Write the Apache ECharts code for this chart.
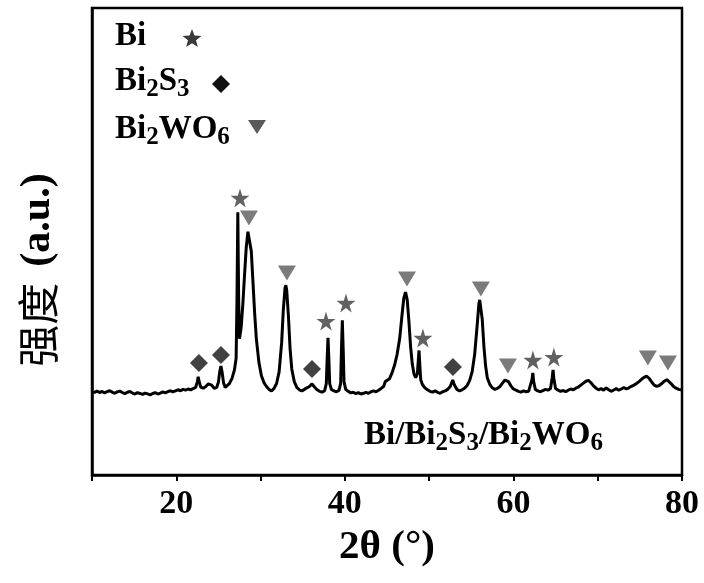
<!DOCTYPE html>
<html>
<head>
<meta charset="utf-8">
<script src="https://cdn.jsdelivr.net/npm/echarts@6/dist/echarts.min.js"></script>
<style>
  html, body { margin: 0; padding: 0; background: #fff; }
  #chartmain { width: 704px; height: 583px; }
</style>
</head>
<body>
<div id="chartmain"></div>
<script>
// 2θ (deg) and intensity
var theta = [
  10.0,10.3,10.6,10.9,11.2,11.5,11.8,12.1,12.4,12.7,13.0,13.3,13.6,13.9,14.2,14.5,14.8,15.1,15.4,15.7,
  16.0,16.3,16.6,16.9,17.2,17.5,17.8,18.1,18.4,18.7,19.0,19.3,19.6,19.9,20.2,20.5,20.8,21.1,21.4,21.7,
  22.0,22.3,22.5,22.6,22.7,22.9,23.2,23.5,23.8,24.0,24.2,24.5,24.8,25.0,25.15,25.3,25.45,25.6,25.8,
  26.0,26.3,26.6,26.9,27.1,27.2,27.3,27.4,27.5,27.7,27.9,28.1,28.3,28.5,28.6,28.7,28.9,29.1,29.3,29.5,
  29.8,30.1,30.4,30.7,31.0,31.3,31.6,31.9,32.2,32.5,32.7,32.9,33.0,33.1,33.3,33.5,33.7,34.0,34.3,34.6,
  34.9,35.2,35.5,35.8,36.1,36.4,36.7,37.0,37.3,37.6,37.8,37.9,38.0,38.1,38.2,38.4,38.7,39.0,39.3,39.5,
  39.6,39.7,39.8,39.9,40.1,40.4,40.7,41.0,41.3,41.6,41.9,42.2,42.5,42.8,43.1,43.4,43.7,44.0,44.3,44.6,
  44.8,45.0,45.3,45.6,45.9,46.2,46.5,46.8,47.0,47.2,47.4,47.6,47.8,48.0,48.2,48.4,48.6,48.7,48.8,48.9,
  49.0,49.2,49.5,49.8,50.1,50.4,50.7,51.0,51.3,51.6,51.9,52.2,52.5,52.8,53.0,53.3,53.6,53.9,54.2,54.5,
  54.8,55.1,55.4,55.7,55.9,56.0,56.1,56.3,56.5,56.7,56.9,57.2,57.5,57.8,58.1,58.4,58.7,59.0,59.2,59.4,
  59.7,60.0,60.3,60.6,60.9,61.2,61.5,61.8,62.0,62.2,62.3,62.4,62.6,62.9,63.2,63.5,63.8,64.1,64.4,64.6,
  64.7,64.8,65.0,65.3,65.6,65.9,66.2,66.5,66.8,67.1,67.4,67.7,68.0,68.3,68.6,68.9,69.2,69.5,69.8,70.1,
  70.4,70.7,71.0,71.3,71.6,71.9,72.2,72.5,72.8,73.1,73.4,73.7,74.0,74.3,74.6,74.9,75.2,75.5,75.8,76.1,
  76.4,76.7,77.0,77.3,77.6,77.9,78.2,78.4,78.7,79.0,79.3,79.6,80.0
];
var intensity = [
  427,425,431,424,429,422,428,433,426,420,427,431,424,418,425,429,421,416,423,419,
  414,421,417,412,419,423,416,421,427,422,428,433,427,432,438,433,440,436,442,438,
  444,450,480,505,482,452,446,455,468,478,462,445,450,478,530,560,525,475,450,
  452,470,495,540,600,900,1350,900,700,760,880,1030,1170,1250,1260,1245,1150,990,830,700,
  580,510,475,455,440,432,445,470,530,680,850,960,975,950,820,650,545,480,450,438,
  432,440,448,455,468,452,438,430,426,433,470,600,705,600,470,440,432,428,435,470,
  650,795,650,480,440,430,422,425,418,423,416,420,425,420,428,432,428,436,445,455,
  480,470,495,525,565,620,700,830,910,940,900,790,660,570,520,500,520,580,640,560,
  490,465,448,438,430,426,432,425,420,428,432,440,455,488,462,440,432,438,446,460,
  485,530,620,770,880,900,890,800,660,560,500,465,448,440,445,455,472,488,498,480,
  458,442,436,430,426,432,428,430,440,490,525,480,440,432,428,434,440,436,445,500,
  540,495,445,436,430,434,428,436,442,438,446,452,462,472,482,486,474,458,446,438,
  444,436,448,438,430,437,444,436,442,450,442,448,456,462,470,480,492,502,508,496,
  478,462,455,460,470,482,490,486,470,455,446,440,437
];
// phase markers [2θ, height]
var biMarks = [[27.56,1424],[37.76,791],[40.13,884],[49.26,704],[62.31,591],[64.80,606]];
var bi2s3Marks = [[22.69,576],[25.30,617],[36.10,545],[52.82,555]];
var bi2wo6Marks = [[28.62,1321],[33.13,1038],[47.37,1007],[56.14,956],[59.35,560],[75.95,601],[78.33,576]];
var xLabels = [20, 40, 60, 80];

var serif = 'Liberation Serif';
var starPath = 'path://M50,0 L61,35 L98,35 L68,57 L79,91 L50,70 L21,91 L32,57 L2,35 L39,35 Z';
var colStar = '#3a3a3a', colDia = '#111111', colTri = '#5a5a5a';

function starPts(cx, cy, r) {
  var pts = [];
  for (var i = 0; i < 10; i++) {
    var a = -Math.PI / 2 + i * Math.PI / 5;
    var rr = i % 2 ? r * 0.42 : r;
    pts.push([cx + rr * Math.cos(a), cy + rr * Math.sin(a)]);
  }
  return pts;
}

var subRich = {
  n: { fontFamily: serif, fontWeight: 'bold', fontSize: 33, color: '#000' },
  s: { fontFamily: serif, fontWeight: 'bold', fontSize: 25, color: '#000', padding: [16, 0, 0, 0] }
};

var curve = theta.map(function (t, i) { return [t, intensity[i]]; });

var option = {
  animation: false,
  grid: { left: 92, right: 22, top: 8, bottom: 108, show: true, borderColor: '#000', borderWidth: 2.5 },
  xAxis: {
    type: 'value', min: 10, max: 80, interval: 10,
    name: '2θ (°)', nameLocation: 'middle', nameGap: 52,
    nameTextStyle: { fontFamily: serif, fontWeight: 'bold', fontSize: 41, color: '#000' },
    axisLine: { lineStyle: { color: '#000', width: 2.5 } },
    axisTick: { inside: false, length: 6, lineStyle: { color: '#000', width: 2 } },
    axisLabel: {
      margin: 12, fontFamily: serif, fontWeight: 'bold', fontSize: 34, color: '#000',
      formatter: function (v) { return xLabels.indexOf(v) >= 0 ? v : ''; }
    },
    splitLine: { show: false }
  },
  yAxis: {
    type: 'value', min: 0, max: 2400,
    name: '{c|强度}{e|(a.u.)}', nameLocation: 'middle', nameGap: 33,
    nameTextStyle: {
      padding: [0, 57, 0, 0],
      rich: {
        c: { fontFamily: 'Noto Sans CJK SC', fontSize: 42, color: '#000', padding: [0, 16, 0, 0] },
        e: { fontFamily: serif, fontWeight: 'bold', fontSize: 42, color: '#000' }
      }
    },
    axisLine: { show: true, lineStyle: { color: '#000', width: 2.5 } },
    axisTick: { show: false },
    axisLabel: { show: false },
    splitLine: { show: false }
  },
  series: [
    {
      type: 'line', data: curve, showSymbol: false, symbol: 'none',
      lineStyle: { color: '#000', width: 3 }, z: 2
    },
    {
      type: 'scatter', data: biMarks, symbol: starPath, symbolSize: 19,
      itemStyle: { color: colStar }, z: 3
    },
    {
      type: 'scatter', data: bi2s3Marks, symbol: 'diamond', symbolSize: [18, 18],
      itemStyle: { color: colDia }, z: 3
    },
    {
      type: 'scatter', data: bi2wo6Marks, symbol: 'triangle', symbolRotate: 180, symbolSize: [18, 15],
      itemStyle: { color: colTri }, z: 3
    }
  ],
  graphic: [
    { type: 'text', left: 115, top: 20, style: { text: '{n|Bi}', rich: subRich } },
    { type: 'polygon', shape: { points: starPts(192, 39, 10) }, style: { fill: colStar } },
    { type: 'text', left: 115, top: 65, style: { text: '{n|Bi}{s|2}{n|S}{s|3}', rich: subRich } },
    { type: 'polygon', shape: { points: [[221, 75], [230, 84], [221, 93], [212, 84]] }, style: { fill: colDia } },
    { type: 'text', left: 115, top: 113, style: { text: '{n|Bi}{s|2}{n|WO}{s|6}', rich: subRich } },
    { type: 'polygon', shape: { points: [[248, 120], [266, 120], [257, 134]] }, style: { fill: colTri } },
    { type: 'text', left: 364, top: 419, style: { text: '{n|Bi/Bi}{s|2}{n|S}{s|3}{n|/Bi}{s|2}{n|WO}{s|6}', rich: subRich } }
  ]
};

var myChart = echarts.init(document.getElementById('chartmain'));
myChart.setOption(option);
</script>
</body>
</html>
